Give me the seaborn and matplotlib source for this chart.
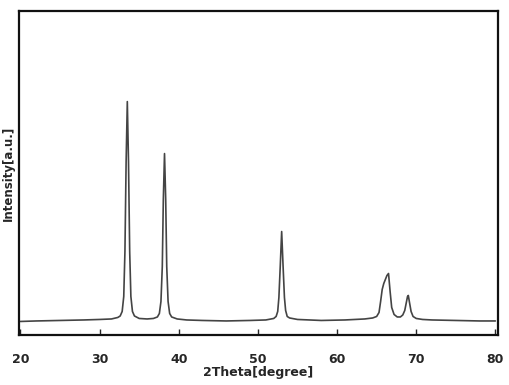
import numpy as np
import pandas as pd
import matplotlib
matplotlib.use("Agg")
import matplotlib.pyplot as plt
import seaborn as sns

two_theta = [20.0, 22.0, 25.0, 28.0, 30.0, 31.5, 32.3, 32.6, 32.85, 33.05, 33.2, 33.35, 33.5,
             33.65, 33.8, 33.95, 34.15, 34.4, 35.0, 36.0, 36.8, 37.3, 37.55, 37.75, 37.92, 38.05,
             38.2, 38.35, 38.48, 38.65, 38.85, 39.1, 39.8, 41.0, 43.0, 46.0, 49.0, 51.0, 52.0,
             52.3, 52.5, 52.65, 52.82, 53.0, 53.18, 53.35, 53.5, 53.7, 54.0, 55.0, 58.0,
             61.0, 63.5, 64.5, 65.0, 65.3, 65.5, 65.7, 65.9, 66.1, 66.3, 66.5, 66.7, 66.9,
             67.2, 67.6, 68.0, 68.3, 68.55, 68.75, 68.9, 69.0, 69.15, 69.35, 69.6, 70.0,
             70.8, 72.0, 75.0, 78.0, 80.0]
intensity = [0.0, 0.5, 1.0, 1.5, 2.0, 2.5, 4.0, 5.5, 10.0, 25.0, 70.0, 160.0, 220.0,
             160.0, 70.0, 25.0, 10.0, 5.5, 3.0, 2.5, 3.0, 4.5, 8.0, 20.0, 55.0, 122.0,
             168.0, 122.0, 55.0, 20.0, 8.0, 4.5, 2.5, 1.5, 1.0, 0.5, 1.0, 1.5, 3.0,
             5.0, 10.0, 24.0, 55.0, 90.0, 55.0, 24.0, 11.0, 5.0, 3.5, 2.0, 1.0,
             1.5, 2.5, 3.5, 5.0, 9.0, 20.0, 32.0, 38.0, 42.0, 46.0, 48.0, 30.0, 14.0,
             7.0, 4.5, 4.5, 6.5, 11.0, 19.0, 25.0, 26.0, 19.0, 10.0, 5.0, 3.0,
             2.0, 1.5, 1.0, 0.5, 0.5]
x_ticks = [20, 30, 40, 50, 60, 70, 80]

df = pd.DataFrame({"2Theta": two_theta, "Intensity": intensity})

sns.set_style("white")
plt.rcParams["font.family"] = ["DejaVu Sans"]

fig = plt.figure(figsize=(5.10, 3.85), dpi=100)
ax = fig.add_axes([0.037, 0.130, 0.939, 0.841])
sns.lineplot(data=df, x="2Theta", y="Intensity", ax=ax, color="#444444",
             linewidth=1.2, estimator=None, sort=False)

ax.set_xlim(19.8, 80.3)
ax.set_ylim(-13.5, 310.5)
ax.set_xticks(x_ticks)
ax.set_xticklabels([str(t) for t in x_ticks], fontsize=9, fontweight="bold")
ax.set_yticks([])
ax.tick_params(axis="x", direction="in", length=4, width=1, pad=13, bottom=True)
for s in ax.spines.values():
    s.set_linewidth(1.6)
    s.set_color("#111111")
ax.set_xlabel("2Theta[degree]", fontsize=9, fontweight="bold", labelpad=0)
ax.set_ylabel("Intensity[a.u.]", fontsize=8.5, fontweight="bold", labelpad=3)

fig.savefig("out.png", dpi=100)
